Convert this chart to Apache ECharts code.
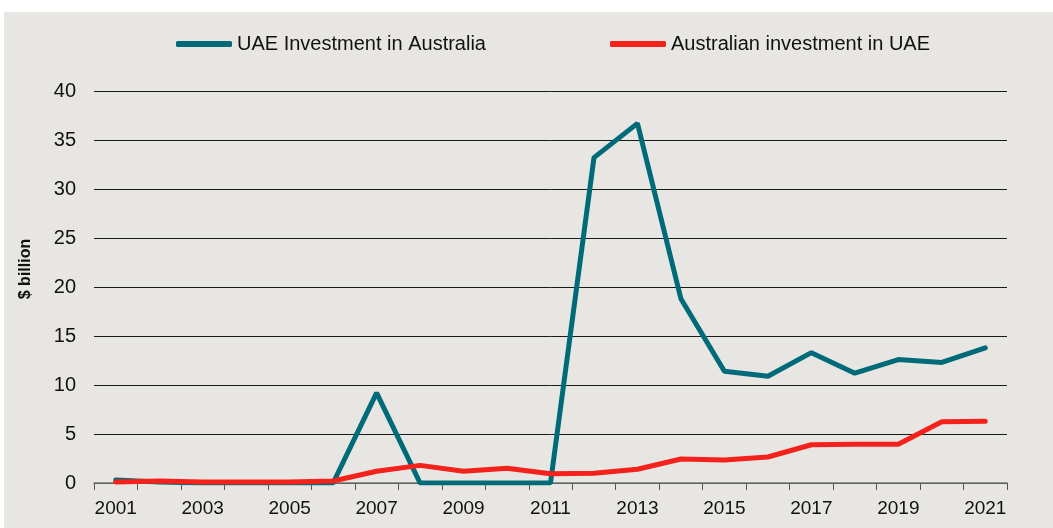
<!DOCTYPE html>
<html>
<head>
    <meta charset="UTF-8">
    <title>UAE - Australia investment</title>
    <script src="https://cdn.jsdelivr.net/npm/echarts@6/dist/echarts.min.js"></script>
    <style>
        body { margin: 0; background: #ffffff; }
        #main { position: absolute; left: 4px; top: 12px; width: 1049px; height: 516px; }
    </style>
</head>
<body>
<div id="main"></div>
<script type="text/javascript">
    // data
    var years = ['2001', '2002', '2003', '2004', '2005', '2006', '2007', '2008', '2009', '2010', '2011',
        '2012', '2013', '2014', '2015', '2016', '2017', '2018', '2019', '2020', '2021'];
    var uaeInAustralia = [0.3, 0.1, 0, 0, 0, 0, 9.2, 0, 0, 0, 0,
        33.2, 36.7, 18.8, 11.4, 10.9, 13.3, 11.2, 12.6, 12.3, 13.8];
    var australiaInUae = [0.1, 0.2, 0.1, 0.1, 0.1, 0.2, 1.2, 1.8, 1.2, 1.5, 0.95,
        1.0, 1.4, 2.45, 2.35, 2.65, 3.9, 3.95, 3.95, 6.25, 6.3];
    var seriesNames = ['UAE Investment in Australia', 'Australian investment in UAE'];
    var seriesColors = ['#006b78', '#f4221a'];

    var chartDom = document.getElementById('main');
    var myChart = echarts.init(chartDom);
    var option;

    option = {
        backgroundColor: '#e8e6e2',
        animation: false,
        color: seriesColors,
        legend: {
            top: 17,
            left: 167,
            icon: 'roundRect',
            itemWidth: 56,
            itemHeight: 6,
            itemGap: 124,
            textStyle: {
                fontFamily: 'Liberation Sans',
                fontSize: 20,
                color: '#111'
            },
            data: seriesNames
        },
        grid: {
            left: 90,
            right: 46,
            top: 79,
            height: 392
        },
        xAxis: {
            type: 'category',
            data: years,
            boundaryGap: true,
            axisLine: { lineStyle: { color: '#7a7a7a', width: 1.5 } },
            axisTick: { show: true, interval: 0, length: 7, lineStyle: { color: '#555' } },
            axisLabel: {
                interval: 1,
                margin: 16,
                fontFamily: 'Liberation Sans',
                fontSize: 19,
                color: '#111'
            }
        },
        yAxis: {
            type: 'value',
            min: 0,
            max: 40,
            interval: 5,
            name: '$ billion',
            nameLocation: 'middle',
            nameGap: 60,
            nameTextStyle: {
                fontFamily: 'Liberation Sans',
                fontWeight: 'bold',
                fontSize: 16,
                color: '#111',
                padding: [0, 0, 0, 36]
            },
            axisLine: { show: false },
            axisTick: { show: false },
            axisLabel: {
                margin: 18,
                fontFamily: 'Liberation Sans',
                fontSize: 20,
                color: '#111'
            },
            splitLine: { lineStyle: { color: '#1a1a1a', width: 1 } }
        },
        series: [
            {
                name: seriesNames[0],
                type: 'line',
                data: uaeInAustralia,
                showSymbol: false,
                lineStyle: { width: 5, color: seriesColors[0], cap: 'round' },
                z: 2
            },
            {
                name: seriesNames[1],
                type: 'line',
                data: australiaInUae,
                showSymbol: false,
                lineStyle: { width: 5, color: seriesColors[1], cap: 'round' },
                z: 3
            }
        ]
    };

    option && myChart.setOption(option);
</script>
</body>
</html>
